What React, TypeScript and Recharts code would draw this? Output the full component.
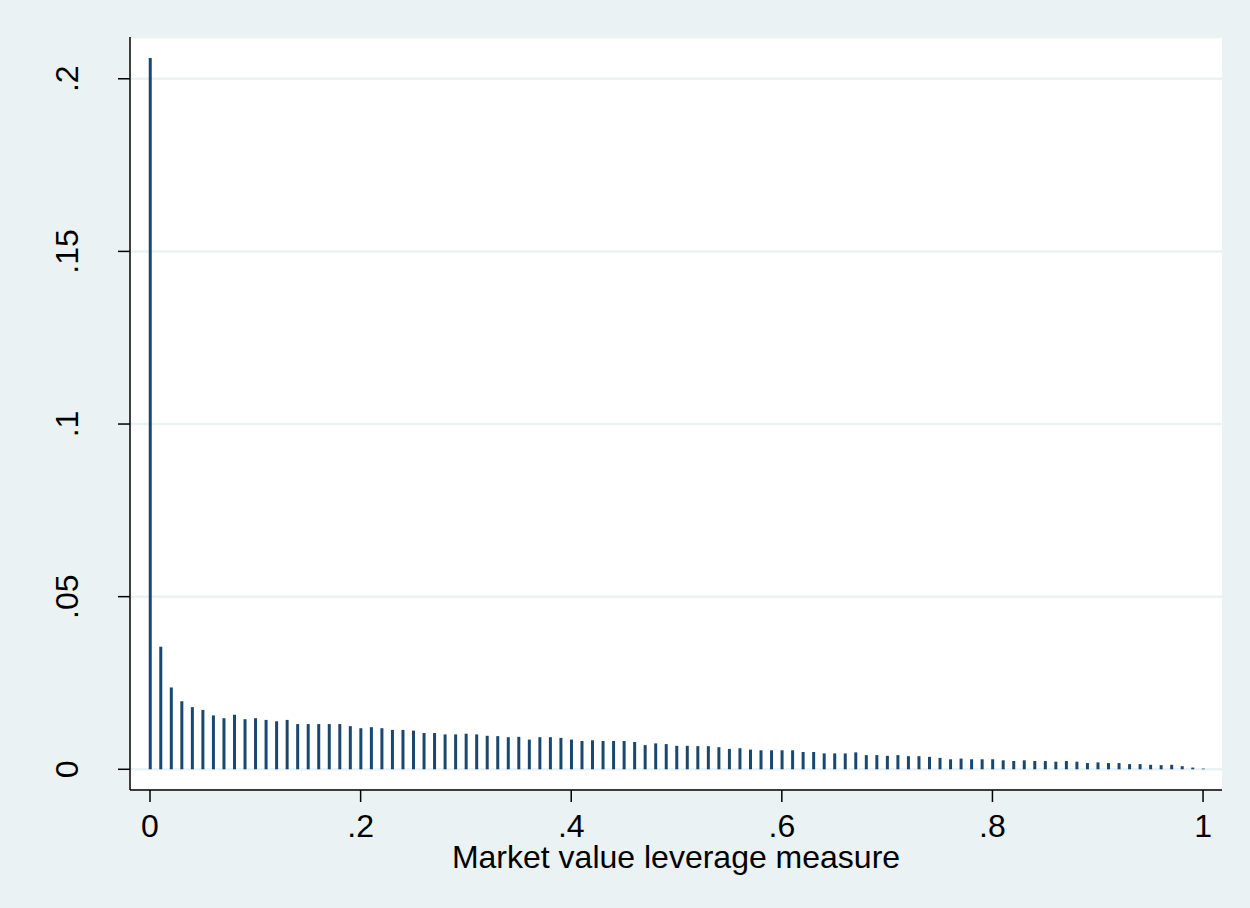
import React from "react";
import { BarChart, Bar, CartesianGrid, XAxis, YAxis } from "recharts";

// bin positions (market value leverage)
const bins = [
  0, 0.01, 0.02, 0.03, 0.04, 0.05, 0.06, 0.07, 0.08, 0.09,
  0.1, 0.11, 0.12, 0.13, 0.14, 0.15, 0.16, 0.17, 0.18, 0.19,
  0.2, 0.21, 0.22, 0.23, 0.24, 0.25, 0.26, 0.27, 0.28, 0.29,
  0.3, 0.31, 0.32, 0.33, 0.34, 0.35, 0.36, 0.37, 0.38, 0.39,
  0.4, 0.41, 0.42, 0.43, 0.44, 0.45, 0.46, 0.47, 0.48, 0.49,
  0.5, 0.51, 0.52, 0.53, 0.54, 0.55, 0.56, 0.57, 0.58, 0.59,
  0.6, 0.61, 0.62, 0.63, 0.64, 0.65, 0.66, 0.67, 0.68, 0.69,
  0.7, 0.71, 0.72, 0.73, 0.74, 0.75, 0.76, 0.77, 0.78, 0.79,
  0.8, 0.81, 0.82, 0.83, 0.84, 0.85, 0.86, 0.87, 0.88, 0.89,
  0.9, 0.91, 0.92, 0.93, 0.94, 0.95, 0.96, 0.97, 0.98, 0.99,
  1,
];

// fraction of observations per bin
const fractions = [
  0.206, 0.0355, 0.0237, 0.0197, 0.018, 0.0172, 0.0156, 0.0148, 0.0158, 0.0145,
  0.0148, 0.0143, 0.0139, 0.0143, 0.0131, 0.0131, 0.0131, 0.0131, 0.0131, 0.0125,
  0.0119, 0.0122, 0.0119, 0.0114, 0.0114, 0.0112, 0.0105, 0.0105, 0.0101, 0.0101,
  0.0103, 0.0101, 0.0097, 0.0096, 0.0093, 0.0094, 0.0086, 0.0093, 0.0093, 0.0091,
  0.0086, 0.0082, 0.0084, 0.0082, 0.0082, 0.0082, 0.0079, 0.007, 0.0075, 0.0073,
  0.0068, 0.0068, 0.0067, 0.0067, 0.0064, 0.0059, 0.0061, 0.0057, 0.0055, 0.0055,
  0.0055, 0.0055, 0.005, 0.005, 0.0046, 0.0046, 0.0046, 0.0049, 0.0041, 0.0041,
  0.0039, 0.0041, 0.0038, 0.0038, 0.0036, 0.0033, 0.0029, 0.0031, 0.0029, 0.0029,
  0.0029, 0.0026, 0.0024, 0.0026, 0.0024, 0.0024, 0.0022, 0.0024, 0.0022, 0.0018,
  0.002, 0.0018, 0.0018, 0.0015, 0.0015, 0.0013, 0.0012, 0.0013, 0.0009, 0.0005,
  0.0002,
];

const xTicks = [0, 0.2, 0.4, 0.6, 0.8, 1];
const yTicks = [0, 0.05, 0.1, 0.15, 0.2];

const data = bins.map((x, i) => ({ x, frac: fractions[i] }));

const fmt = (v: number) => (v === 0 ? "0" : String(v).replace(/^0/, ""));

const FONT = "'Liberation Sans', Arial, sans-serif";

const XTick = (props: any) => {
  const { x, y, payload } = props;
  return (
    <text x={x} y={y + 33} textAnchor="middle" fontSize={32} fontFamily={FONT} fill="#000">
      {fmt(payload.value)}
    </text>
  );
};

const YTick = (props: any) => {
  const { x, y, payload } = props;
  const bx = x - 38;
  return (
    <text
      x={bx}
      y={y}
      transform={`rotate(-90, ${bx}, ${y})`}
      textAnchor="middle"
      fontSize={32}
      fontFamily={FONT}
      fill="#000"
    >
      {fmt(payload.value)}
    </text>
  );
};

export default function App() {
  return (
    <div
      style={{
        position: "absolute",
        left: 0,
        top: 0,
        width: 1250,
        height: 908,
        background: "#EAF2F3",
      }}
    >
      <BarChart
        width={1250}
        height={908}
        data={data}
        margin={{ top: 37, right: 28, left: 0, bottom: 0 }}
      >
        <CartesianGrid
          fill="#FFFFFF"
          vertical={false}
          stroke="#EAF2F3"
          strokeWidth={2.5}
        />
        <XAxis
          dataKey="x"
          type="number"
          domain={[-0.019, 1.018]}
          allowDataOverflow
          ticks={xTicks}
          interval={0}
          height={118}
          tickSize={12}
          stroke="#000"
          strokeWidth={1.5}
          tick={<XTick />}
          label={{
            value: "Market value leverage measure",
            position: "insideBottom",
            offset: 40,
            fontSize: 32,
            fontFamily: FONT,
            fill: "#000",
          }}
        />
        <YAxis
          type="number"
          domain={[-0.006, 0.2121]}
          allowDataOverflow
          ticks={yTicks}
          interval={0}
          width={130}
          tickSize={12}
          stroke="#000"
          strokeWidth={1.5}
          tick={<YTick />}
        />
        <Bar dataKey="frac" fill="#1A476F" barSize={3} isAnimationActive={false} />
      </BarChart>
    </div>
  );
}
